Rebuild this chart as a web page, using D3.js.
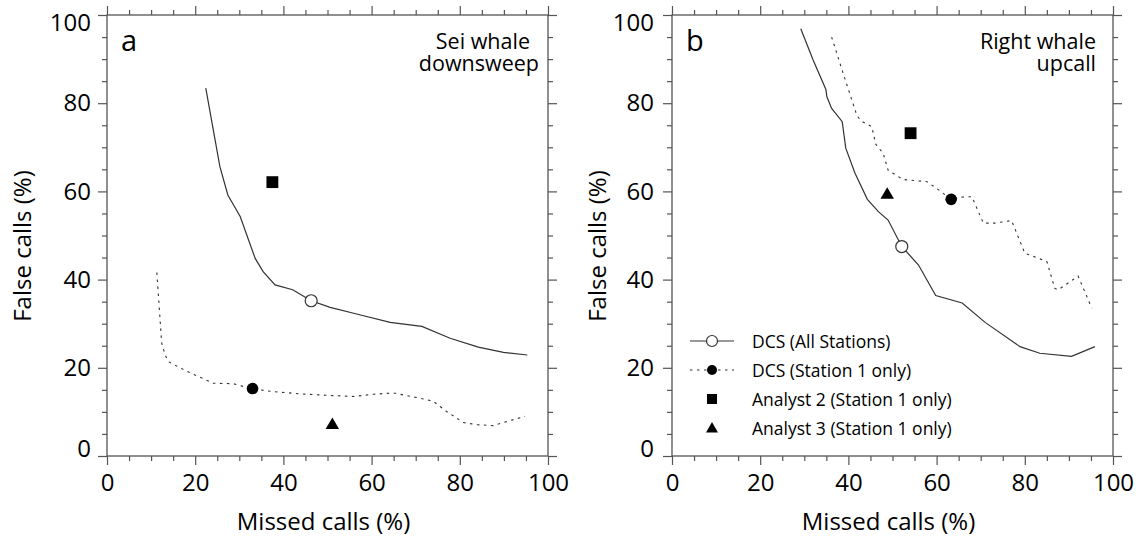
<!DOCTYPE html>
<html>
<head>
<meta charset="utf-8">
<script src="https://cdn.jsdelivr.net/npm/d3@7"></script>
<style>
  body { margin: 0; background: #fff; }
  text { font-family: "Open Sans", sans-serif; fill: #000; }
</style>
</head>
<body>
<script>
// ---- data (missed %, false %) ----
// panel a: sei whale downsweep
const seiAllMissed = [22.4, 25.6, 27.4, 30.2, 33.6, 35.4, 38.1, 42.1, 46.3, 50.6, 56.6, 64.2, 71.4, 77.8, 84.2, 89.9, 95.3];
const seiAllFalse  = [83.4, 65.6, 59.2, 54.3, 44.8, 41.8, 38.8, 37.7, 35.2, 33.7, 32.2, 30.3, 29.4, 26.7, 24.7, 23.5, 22.9];
const seiS1Missed  = [11.3, 12.4, 13.2, 13.9, 18.1, 24.1, 28.6, 33.0, 37.7, 43.8, 51.3, 55.9, 60.4, 64.9, 71.0, 74.0, 77.0, 80.8, 83.8, 87.6, 90.6, 94.8];
const seiS1False   = [41.6, 25.6, 22.9, 21.4, 19.2, 16.5, 16.4, 15.2, 14.6, 14.1, 13.7, 13.5, 14.0, 14.3, 13.1, 12.4, 10.1, 7.6, 7.1, 6.9, 7.8, 9.0];
const seiAllOp = [46.3, 35.2];
const seiS1Op = [33.0, 15.3];
const seiAnalyst2 = [37.5, 62.1];
const seiAnalyst3 = [51.1, 7.0];

// panel b: right whale upcall
const rightAllMissed = [29.2, 32.0, 34.9, 35.1, 36.2, 38.6, 39.4, 41.5, 44.3, 46.8, 49.0, 52.1, 55.9, 59.8, 65.8, 71.0, 78.9, 83.4, 90.6, 95.9];
const rightAllFalse  = [96.9, 89.8, 83.1, 81.5, 78.8, 75.8, 69.8, 64.1, 58.2, 55.4, 53.5, 47.5, 43.3, 36.4, 34.7, 30.3, 24.8, 23.3, 22.6, 24.8];
const rightS1Missed  = [36.2, 38.8, 41.9, 42.8, 45.3, 46.2, 47.9, 49.0, 52.4, 57.8, 60.0, 63.3, 65.3, 68.0, 70.6, 73.2, 77.0, 80.0, 85.0, 86.8, 87.6, 92.1, 95.2];
const rightS1False   = [95.0, 86.8, 77.3, 76.0, 74.7, 70.7, 68.6, 64.8, 62.7, 62.2, 60.7, 58.2, 58.7, 58.8, 52.8, 52.8, 53.4, 46.0, 44.1, 38.0, 37.7, 40.8, 33.5];
const rightAllOp = [52.1, 47.5];
const rightS1Op = [63.3, 58.2];
const rightAnalyst2 = [54.1, 73.2];
const rightAnalyst3 = [48.8, 59.2];

const majorTicks = [0, 20, 40, 60, 80, 100];
const minorTicks = d3.range(0, 101, 5).filter(v => v % 20 !== 0);
const legendLabels = ["DCS (All Stations)", "DCS (Station 1 only)", "Analyst 2 (Station 1 only)", "Analyst 3 (Station 1 only)"];

const w = 1138;
const h = 536;
const plotTop = 15, plotBottom = 456;
const lineColor = "#333";
const frameColor = "#555";

const svg = d3.select("body").append("svg")
  .attr("width", w)
  .attr("height", h);

const yScale = d3.scaleLinear().domain([0, 100]).range([plotBottom, plotTop]);

function drawPanel(p) {
  const xScale = d3.scaleLinear().domain([0, 100]).range([p.left, p.right]);
  const g = svg.append("g");

  // minor ticks, all four sides
  const minorAxes = [
    [d3.axisBottom(xScale), "translate(0," + plotBottom + ")"],
    [d3.axisTop(xScale), "translate(0," + plotTop + ")"],
    [d3.axisLeft(yScale), "translate(" + p.left + ",0)"],
    [d3.axisRight(yScale), "translate(" + p.right + ",0)"]
  ];
  minorAxes.forEach(([ax, tr]) => {
    g.append("g").attr("transform", tr)
      .call(ax.tickValues(minorTicks).tickSize(5).tickFormat(""));
  });

  // major ticks
  g.append("g").attr("transform", "translate(0," + plotBottom + ")")
    .call(d3.axisBottom(xScale).tickValues(majorTicks).tickSize(9).tickPadding(9).tickFormat(d3.format("d")));
  g.append("g").attr("transform", "translate(0," + plotTop + ")")
    .call(d3.axisTop(xScale).tickValues(majorTicks).tickSize(9).tickFormat(""));
  const yLeft = g.append("g").attr("transform", "translate(" + p.left + ",0)")
    .call(d3.axisLeft(yScale).tickValues(majorTicks).tickSize(9).tickPadding(p.yPad).tickFormat(d3.format("d")));
  g.append("g").attr("transform", "translate(" + p.right + ",0)")
    .call(d3.axisRight(yScale).tickValues(majorTicks).tickSize(9).tickFormat(""));

  g.selectAll(".domain").remove();
  g.selectAll(".tick line").attr("stroke", frameColor).attr("stroke-width", 1.2);
  g.selectAll(".tick text").attr("font-size", 24).attr("font-family", "Open Sans").attr("fill", "#000");
  yLeft.selectAll(".tick text").filter(d => d === 0).attr("dy", "0.0em");
  yLeft.selectAll(".tick text").filter(d => d === 100).attr("dy", "0.65em");

  // frame
  g.append("rect")
    .attr("x", p.left).attr("y", plotTop)
    .attr("width", p.right - p.left).attr("height", plotBottom - plotTop)
    .attr("fill", "none").attr("stroke", frameColor).attr("stroke-width", 1.3);

  const line = d3.line().x(d => xScale(d[0])).y(d => yScale(d[1]));

  g.append("path")
    .datum(d3.zip(p.s1Missed, p.s1False))
    .attr("d", line)
    .attr("fill", "none").attr("stroke", lineColor).attr("stroke-width", 1.1)
    .attr("stroke-dasharray", "2.5,4.5");

  g.append("path")
    .datum(d3.zip(p.allMissed, p.allFalse))
    .attr("d", line)
    .attr("fill", "none").attr("stroke", lineColor).attr("stroke-width", 1.2);

  g.append("path")
    .attr("transform", "translate(" + xScale(p.analyst2[0]) + "," + yScale(p.analyst2[1]) + ")")
    .attr("d", d3.symbol(d3.symbolSquare, 140)());
  g.append("path")
    .attr("transform", "translate(" + xScale(p.analyst3[0]) + "," + yScale(p.analyst3[1]) + ")")
    .attr("d", d3.symbol(d3.symbolTriangle, 78)());
  g.append("circle")
    .attr("cx", xScale(p.s1Op[0])).attr("cy", yScale(p.s1Op[1])).attr("r", 5.8)
    .attr("fill", "#000");
  g.append("circle")
    .attr("cx", xScale(p.allOp[0])).attr("cy", yScale(p.allOp[1])).attr("r", 6)
    .attr("fill", "#fff").attr("stroke", lineColor).attr("stroke-width", 1.2);

  // labels
  g.append("text").attr("x", p.left + 14).attr("y", 51)
    .attr("font-size", 29).text(p.letter);
  const title = g.append("text").attr("font-size", 21.5).attr("text-anchor", "end");
  p.title.forEach((t, i) => {
    title.append("tspan").attr("x", p.titleX[i]).attr("y", 49 + i * 21.5).text(t);
  });
  g.append("text")
    .attr("x", (p.left + p.right) / 2 - 4).attr("y", 530)
    .attr("text-anchor", "middle").attr("font-size", 24)
    .text("Missed calls (%)");
  g.append("text")
    .attr("transform", "translate(" + p.yTitleX + ",246) rotate(-90)")
    .attr("text-anchor", "middle").attr("font-size", 24)
    .text("False calls (%)");

  if (p.legend) {
    const lx = p.left + 40, tx = p.left + 80;
    const rowY = i => 341 + i * 29;
    const lg = g.append("g");
    lg.append("line").attr("x1", lx - 22).attr("x2", lx + 22).attr("y1", rowY(0)).attr("y2", rowY(0))
      .attr("stroke", lineColor).attr("stroke-width", 1.2);
    lg.append("circle").attr("cx", lx).attr("cy", rowY(0)).attr("r", 5.5)
      .attr("fill", "#fff").attr("stroke", lineColor).attr("stroke-width", 1.2);
    lg.append("line").attr("x1", lx - 22).attr("x2", lx + 22).attr("y1", rowY(1)).attr("y2", rowY(1))
      .attr("stroke", lineColor).attr("stroke-width", 1.1).attr("stroke-dasharray", "2.5,4.5");
    lg.append("circle").attr("cx", lx).attr("cy", rowY(1)).attr("r", 5).attr("fill", "#000");
    lg.append("path").attr("transform", "translate(" + lx + "," + rowY(2) + ")")
      .attr("d", d3.symbol(d3.symbolSquare, 100)());
    lg.append("path").attr("transform", "translate(" + lx + "," + (rowY(3) + 1) + ")")
      .attr("d", d3.symbol(d3.symbolTriangle, 62)());
    lg.selectAll("text.leg").data(legendLabels).enter()
      .append("text").attr("class", "leg")
      .attr("x", tx).attr("y", (d, i) => rowY(i) + 6.5)
      .attr("font-size", 17.5).text(d => d);
  }
}

drawPanel({
  left: 107, right: 548, letter: "a",
  title: ["Sei whale", "downsweep"], titleX: [530, 539],
  yTitleX: 31, yPad: 7,
  allMissed: seiAllMissed, allFalse: seiAllFalse,
  s1Missed: seiS1Missed, s1False: seiS1False,
  allOp: seiAllOp, s1Op: seiS1Op, analyst2: seiAnalyst2, analyst3: seiAnalyst3,
  legend: false
});

drawPanel({
  left: 672, right: 1113, letter: "b",
  title: ["Right whale", "upcall"], titleX: [1096, 1096],
  yTitleX: 606, yPad: 9,
  allMissed: rightAllMissed, allFalse: rightAllFalse,
  s1Missed: rightS1Missed, s1False: rightS1False,
  allOp: rightAllOp, s1Op: rightS1Op, analyst2: rightAnalyst2, analyst3: rightAnalyst3,
  legend: true
});
</script>
</body>
</html>
